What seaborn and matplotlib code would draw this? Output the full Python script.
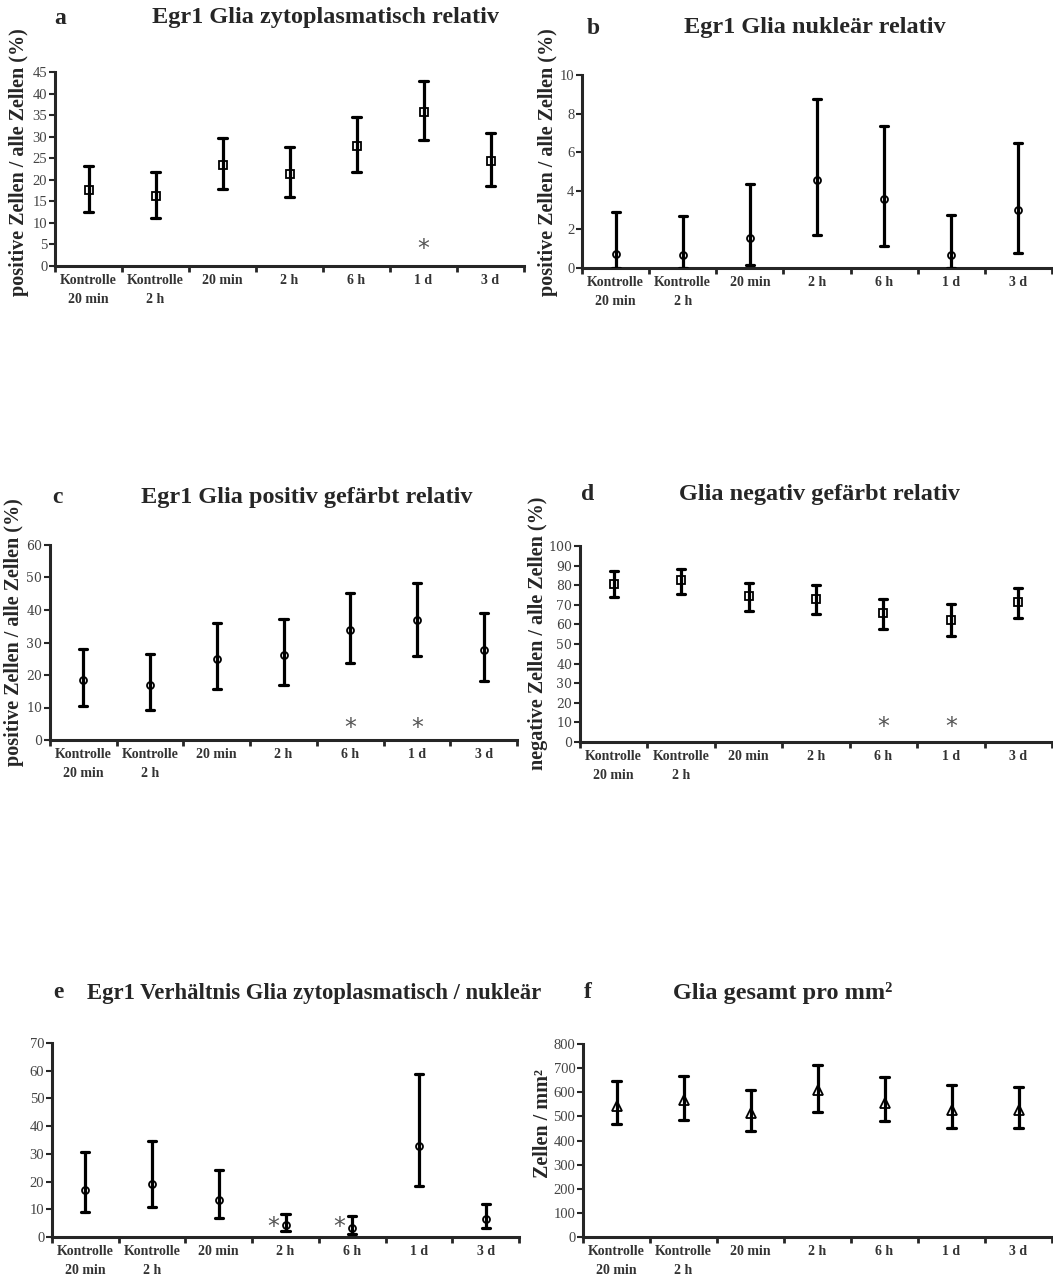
import pandas as pd
import matplotlib.pyplot as plt
import seaborn as sns
from matplotlib.ticker import MultipleLocator, FixedLocator, NullFormatter

groups = ['Kontrolle\n20 min', 'Kontrolle\n2 h', '20 min', '2 h', '6 h', '1 d', '3 d']

# mean and lower / upper end of the error bar per group
a_mean = [17.6, 16.2, 23.4, 21.3, 27.9, 35.8, 24.4]
a_low = [12.6, 11.2, 17.8, 15.9, 21.8, 29.2, 18.6]
a_high = [23.2, 21.8, 29.8, 27.7, 34.6, 42.8, 30.9]
a_stars = ['1 d']

b_mean = [0.72, 0.66, 1.55, 4.57, 3.57, 0.66, 2.98]
b_low = [0.0, 0.0, 0.17, 1.72, 1.12, 0.0, 0.78]
b_high = [2.88, 2.67, 4.36, 8.74, 7.38, 2.74, 6.5]
b_stars = []

c_mean = [18.6, 16.9, 25.0, 26.3, 33.7, 36.8, 27.8]
c_low = [10.5, 9.2, 15.7, 17.0, 23.6, 25.9, 18.3]
c_high = [28.1, 26.4, 35.9, 37.1, 45.1, 48.3, 39.1]
c_stars = ['6 h', '1 d']

d_mean = [80.7, 82.5, 74.4, 73.1, 65.8, 62.5, 71.6]
d_low = [74.1, 75.6, 66.6, 65.1, 57.4, 54.3, 63.4]
d_high = [87.1, 88.1, 80.9, 79.9, 73.1, 70.2, 78.4]
d_stars = ['6 h', '1 d']

e_mean = [16.9, 19.0, 13.3, 4.3, 3.3, 33.0, 6.6]
e_low = [9.2, 10.7, 7.0, 2.2, 1.0, 18.3, 3.3]
e_high = [30.5, 34.5, 24.2, 8.4, 7.7, 58.8, 12.0]
e_stars = ['2 h', '6 h']

f_mean = [543, 566, 516, 608, 557, 526, 526]
f_low = [469, 486, 439, 519, 480, 451, 451]
f_high = [646, 668, 611, 714, 662, 628, 622]
f_stars = []

sns.set_style('ticks')
plt.rcParams['font.family'] = ['Liberation Serif', 'DejaVu Serif']

W, H = 1053, 1277


def long_frame(mean, low, high):
    rows = []
    for g, m, lo, hi in zip(groups, mean, low, high):
        for v in (lo, m, hi):
            rows.append({'Gruppe': g, 'Wert': v})
    return pd.DataFrame(rows)


def panel(fig, box, mean, low, high, stars, ymax, step, marker, msize,
          ylabel, label_xy, star_y, star_dx=0.0, tick_font='Liberation Serif'):
    left, right, top, bottom = box
    ax = fig.add_axes([left / W, 1 - bottom / H, (right - left) / W, (bottom - top) / H])
    df = long_frame(mean, low, high)
    sns.pointplot(
        data=df, x='Gruppe', y='Wert', order=groups,
        estimator='median',
        errorbar=lambda v: (v.min(), v.max()),
        linestyle='none',
        marker=marker,
        markersize=msize,
        markerfacecolor='white',
        markeredgecolor='black',
        markeredgewidth=1.3,
        color='black',
        capsize=0.12,
        err_kws={'linewidth': 2.3},
        zorder=5,
        ax=ax
    )
    for s in stars:
        ax.text(groups.index(s) + star_dx, star_y, '*', ha='center', va='center',
                fontsize=17, color='#555555', family='DejaVu Sans')

    ax.set_xlim(-0.5, 6.5)
    ax.set_ylim(0, ymax)
    ax.set_xlabel('')
    ax.set_ylabel(ylabel, fontsize=14.5, fontweight='bold', va='center')
    # label centre given in picture pixels
    ax.yaxis.set_label_coords((label_xy[0] - left) / (right - left),
                              (bottom - label_xy[1]) / (bottom - top))
    ax.yaxis.set_major_locator(MultipleLocator(step))
    ax.xaxis.set_minor_locator(FixedLocator([i - 0.5 for i in range(8)]))
    ax.xaxis.set_minor_formatter(NullFormatter())
    ax.tick_params(axis='x', which='major', length=0, pad=6)
    ax.tick_params(axis='x', which='minor', length=4, width=2, direction='out')
    ax.tick_params(axis='y', length=4, width=1.5, direction='out', pad=1.5)
    ax.set_xticks(range(len(groups)), labels=groups, fontweight='bold',
                  fontsize=10, color='#333333', linespacing=1.6)
    for lab in ax.get_yticklabels():
        lab.set_fontfamily(tick_font)
        lab.set_fontsize(10.5 if tick_font == 'Liberation Serif' else 9)
        lab.set_color('#444444')
    sns.despine(ax=ax)
    for sp in ('left', 'bottom'):
        ax.spines[sp].set_linewidth(2.2)
    return ax


fig = plt.figure(figsize=(10.53, 12.77), dpi=100)

panel(fig, (55, 524, 72, 266), a_mean, a_low, a_high, a_stars, 45, 5, 's', 5.5,
      'positive Zellen / alle Zellen (%)', (19, 162), 3.9)
panel(fig, (582, 1052, 75, 268), b_mean, b_low, b_high, b_stars, 10, 2, 'o', 5,
      'positive Zellen / alle Zellen (%)', (548, 162), 0)
panel(fig, (50, 517, 545, 740), c_mean, c_low, c_high, c_stars, 60, 10, 'o', 5,
      'positive Zellen / alle Zellen (%)', (14, 632), 3.6, tick_font='DejaVu Serif')
panel(fig, (580, 1052, 546, 742), d_mean, d_low, d_high, d_stars, 100, 10, 's', 6,
      'negative Zellen / alle Zellen (%)', (538, 633), 7.7, tick_font='DejaVu Serif')
panel(fig, (52, 519, 1043, 1237), e_mean, e_low, e_high, e_stars, 70, 10, 'o', 5,
      '', (20, 1140), 3.7, star_dx=-0.19)
panel(fig, (583, 1052, 1044, 1237), f_mean, f_low, f_high, f_stars, 800, 100, '^', 6.5,
      'Zellen / mm²', (543, 1123), 0)

heads = [
    (60, 18, 'a', 326, 'Egr1 Glia zytoplasmatisch relativ', 'center', 17.5),
    (593, 28, 'b', 815, 'Egr1 Glia nukleär relativ', 'center', 17.5),
    (57, 497, 'c', 307, 'Egr1 Glia positiv gefärbt relativ', 'center', 17.5),
    (588, 495, 'd', 819, 'Glia negativ gefärbt relativ', 'center', 17.5),
    (58, 993, 'e', 87, 'Egr1 Verhältnis Glia zytoplasmatisch / nukleär', 'left', 16.3),
    (588, 993, 'f', 783, 'Glia gesamt pro mm²', 'center', 17.5),
]
for lx, ly, letter, tx, title, ha, size in heads:
    fig.text(lx / W, 1 - ly / H, letter, ha='center', va='center',
             fontsize=17, fontweight='bold')
    fig.text(tx / W, 1 - ly / H, title, ha=ha, va='center',
             fontsize=size, fontweight='bold')

fig.savefig('out.png', dpi=100)
